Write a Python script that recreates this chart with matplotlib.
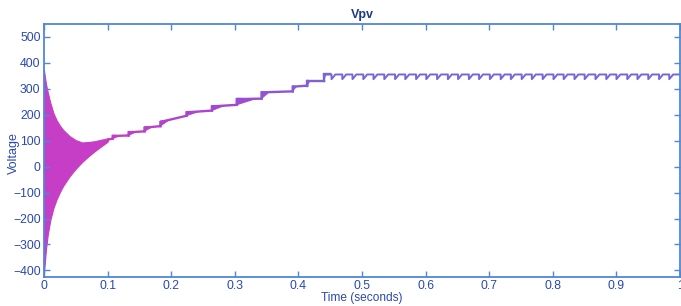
import numpy as np
import matplotlib
matplotlib.use("Agg")
import matplotlib.pyplot as plt
from matplotlib.colors import LinearSegmentedColormap

# ---------------- data ----------------
# start-up oscillation envelope (filled band)
env_t     = [0.000, 0.003, 0.006, 0.010, 0.015, 0.020, 0.025, 0.030, 0.040, 0.050, 0.060, 0.070, 0.080, 0.090, 0.100]
env_upper = [370,   320,   285,   245,   205,   178,   158,   142,   118,   102,   93,    95,    98,    104,   108]
env_lower = [-410,  -320,  -260,  -205,  -158,  -125,  -98,   -75,   -38,   -8,    18,    40,    60,    78,    96]

# MPPT staircase: step times, level before and after each step, wedge length
step_t    = [0.100, 0.108, 0.133, 0.158, 0.183, 0.224, 0.264, 0.303, 0.342, 0.391, 0.414, 0.440]
step_from = [100,   108,   120,   136,   156,   196,   216,   238,   262,   290,   312,   330]
step_to   = [104,   118,   132,   150,   172,   209,   232,   260,   286,   308,   330,   355]
step_w    = [0.004, 0.012, 0.012, 0.012, 0.014, 0.020, 0.020, 0.030, 0.012, 0.006, 0.004, 0.003]

# steady state: level and periodic dips
steady_level = 355
dip_bottom = 337
dip_t = [0.452, 0.469, 0.485, 0.502, 0.518, 0.535, 0.552, 0.568, 0.585, 0.601,
         0.618, 0.635, 0.651, 0.668, 0.684, 0.701, 0.718, 0.734, 0.751, 0.767,
         0.784, 0.801, 0.817, 0.834, 0.850, 0.867, 0.884, 0.900, 0.917, 0.933,
         0.950, 0.967, 0.983]
t_end = 1.0

x_ticks = [0, 0.1, 0.2, 0.3, 0.4, 0.5, 0.6, 0.7, 0.8, 0.9, 1]
x_ticklabels = ["0", "0.1", "0.2", "0.3", "0.4", "0.5", "0.6", "0.7", "0.8", "0.9", "1"]
y_ticks = [-400, -300, -200, -100, 0, 100, 200, 300, 400, 500]

# ---------------- styling ----------------
plt.rcParams['font.family'] = ['Liberation Sans', 'DejaVu Sans']
text_col = '#2a48b0'
spine_col = '#4f86d8'
cmap = LinearSegmentedColormap.from_list(
    'vpv', [(0.0, '#c63ec6'), (0.12, '#c03fc8'), (0.30, '#9a4cd2'), (0.45, '#7a66d8'), (1.0, '#7468d8')])

fig = plt.figure(figsize=(6.81, 3.06), dpi=100)
ax = fig.add_axes([0.0646, 0.095, 0.934, 0.827])

# start-up band
ax.fill_between(env_t, env_lower, env_upper, color=cmap(0.0), linewidth=0.8,
                edgecolor=cmap(0.0))
ax.plot([0, 0], [env_lower[0], env_upper[0]], color=cmap(0.0), lw=1.2)

# staircase
n = len(step_t)
for i in range(n):
    t0 = step_t[i]
    t1 = step_t[i + 1] if i + 1 < n else step_t[i] + 0.01
    v1 = step_from[i + 1] if i + 1 < n else step_to[i]
    c = cmap(t0)
    ax.plot([t0, t0, t1], [step_from[i], step_to[i], v1], color=c, lw=1.7,
            solid_joinstyle='miter')
    tw = t0 + step_w[i]
    vw = step_to[i] + (v1 - step_to[i]) * (tw - t0) / (t1 - t0)
    ax.fill([t0, t0, tw], [step_from[i], step_to[i] + 4, vw], color=c, lw=0.6)

# steady state with dips
xs = [step_t[-1]]
ys = [steady_level]
for td in dip_t:
    xs += [td, td, td + 0.0045, td + 0.006]
    ys += [steady_level, dip_bottom, steady_level - 5, steady_level]
xs.append(t_end)
ys.append(steady_level)
ax.plot(xs, ys, color=cmap(0.8), lw=1.4)

# ---------------- axes ----------------
ax.set_xlim(0, 1)
ax.set_ylim(-425, 550)
ax.set_xticks(x_ticks)
ax.set_xticklabels(x_ticklabels)
ax.set_yticks(y_ticks)
ax.tick_params(direction='in', length=4, width=1.0, color=spine_col,
               labelcolor=text_col, labelsize=8.8, pad=2.5,
               top=True, right=True)
for s in ax.spines.values():
    s.set_color(spine_col)
    s.set_linewidth(1.3)

ax.set_title('Vpv', fontsize=9, fontweight='bold', color='#1f3a8a', pad=4)
ax.set_xlabel('Time (seconds)', fontsize=8.6, color=text_col)
ax.xaxis.set_label_coords(0.5, -0.061)
ax.set_ylabel('Voltage', fontsize=9, color=text_col)
ax.yaxis.set_label_coords(-0.038, 0.49)

fig.savefig('out.png', dpi=100)
